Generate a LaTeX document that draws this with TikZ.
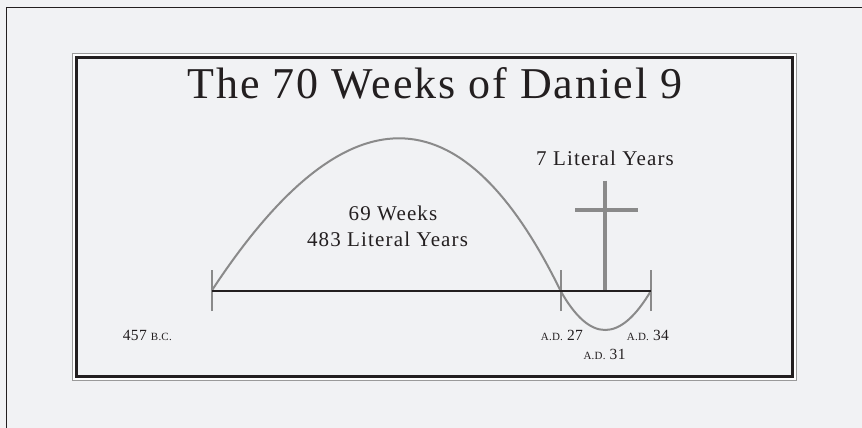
\documentclass[tikz,border=0pt]{standalone}
\usepackage{fontspec}
\setmainfont{Liberation Serif}
\newfontfamily\titlefont[LetterSpace=4.4]{Liberation Serif}
\newfontfamily\lblfont[LetterSpace=5.5]{Liberation Serif}
\newfontfamily\smfont[LetterSpace=2]{Liberation Serif}
\definecolor{bgc}{HTML}{F1F2F4}
\definecolor{ink}{HTML}{231F20}
\definecolor{arcgray}{HTML}{8A8A8A}
\definecolor{framegray}{HTML}{9A9A9A}
\newcommand\mysc[1]{{\fontsize{11}{11}\selectfont #1}}
\begin{document}
\begin{tikzpicture}[x=1pt,y=-1pt,
  txt/.style={inner sep=0pt, text=ink},
  arcline/.style={draw=arcgray, line width=2pt},
  tickline/.style={draw=arcgray, line width=2pt},
  crossline/.style={draw=arcgray, line width=3.4pt},
  axis/.style={draw=ink, line width=2pt}]
\useasboundingbox (0,0) rectangle (862,428);
\fill[bgc] (0,0) rectangle (862,428);
% outer frame (cut by page edges)
\draw[ink, line width=1.3pt] (6.5,428) -- (6.5,7.5) -- (862,7.5);
% inner double frame
\draw[white, line width=2.5pt] (74.5,55.5) rectangle (794.6,378.6);
\draw[framegray, line width=1.2pt] (72.5,53.5) rectangle (796.5,380.5);
\draw[ink, line width=2.6pt] (76.5,57.5) rectangle (792.7,376.3);
% title
\node[txt, anchor=base] (title) at (435,99) {\titlefont\fontsize{44}{44}\selectfont The 70 Weeks of Daniel 9};
% timeline points
\coordinate (t1) at (211.7,290.7);
\coordinate (t2) at (560.5,290.7);
\coordinate (t3) at (651,290.7);
\coordinate (c0) at (605,290.7);
% arcs
\draw[arcline] (t1) .. controls (345.2,87.5) and (461.3,87.5) .. (t2)
                    .. controls (590,343.1) and (620,343.1) .. (t3);
% ticks
\foreach \p in {t1,t2,t3}{
  \draw[tickline] ([yshift=-20.5pt]\p) -- ([yshift=21pt]\p);
}
% cross
\coordinate (ctop) at (605,180.7);
\coordinate (cl) at (575,210);
\coordinate (cr) at (637.7,210);
\draw[crossline] (ctop) -- (c0);
\draw[crossline] (cl) -- (cr);
% axis
\draw[axis] (t1) -- (t3);
% labels
\node[txt, anchor=base] (w69) at (393,220.7) {\lblfont\fontsize{21}{21}\selectfont 69 Weeks};
\node[txt, anchor=base] (y483) at (387.5,246) {\lblfont\fontsize{21}{21}\selectfont 483 Literal Years};
\node[txt, anchor=base] (y7) at (605,165) {\lblfont\fontsize{21}{21}\selectfont 7 Literal Years};
\node[txt, anchor=base west] (bc457) at (122.7,340.7) {\smfont\fontsize{15.5}{15.5}\selectfont 457 \mysc{B.C.}};
\node[txt, anchor=base west] (ad27) at (540.7,340) {\smfont\fontsize{15.5}{15.5}\selectfont \mysc{A.D.} 27};
\node[txt, anchor=base west] (ad34) at (626.7,340) {\smfont\fontsize{15.5}{15.5}\selectfont \mysc{A.D.} 34};
\node[txt, anchor=base west] (ad31) at (583.3,359) {\smfont\fontsize{15.5}{15.5}\selectfont \mysc{A.D.} 31};
\end{tikzpicture}
\end{document}
